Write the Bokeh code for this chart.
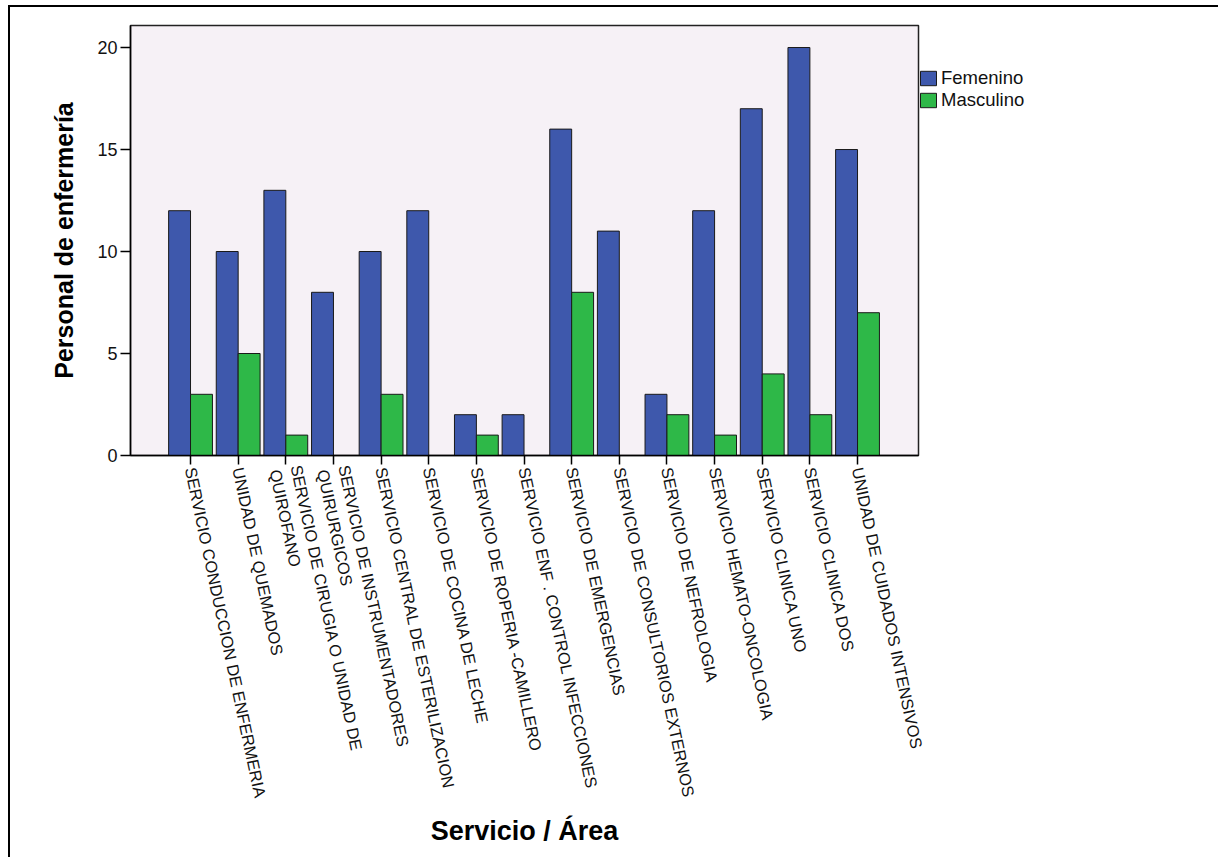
import math
from bokeh.plotting import figure
from bokeh.models import Legend, LegendItem, FixedTicker, Range1d, ColumnDataSource
from bokeh.transform import dodge
from bokeh.embed import file_html
from bokeh.resources import INLINE

categories = [
    "SERVICIO CONDUCCION DE ENFERMERIA",
    "UNIDAD DE QUEMADOS",
    "SERVICIO DE CIRUGIA O UNIDAD DE\nQUIROFANO",
    "SERVICIO DE INSTRUMENTADORES\nQUIRURGICOS",
    "SERVICIO CENTRAL DE ESTERILIZACION",
    "SERVICIO DE COCINA DE LECHE",
    "SERVICIO DE ROPERIA -CAMILLERO",
    "SERVICIO ENF . CONTROL INFECCIONES",
    "SERVICIO DE  EMERGENCIAS",
    "SERVICIO DE CONSULTORIOS EXTERNOS",
    "SERVICIO DE NEFROLOGIA",
    "SERVICIO HEMATO-ONCOLOGIA",
    "SERVICIO CLINICA UNO",
    "SERVICIO CLINICA DOS",
    "UNIDAD DE CUIDADOS INTENSIVOS",
]
femenino = [12, 10, 13, 8, 10, 12, 2, 2, 16, 11, 3, 12, 17, 20, 15]
masculino = [3, 5, 1, 0, 3, 0, 1, 0, 8, 0, 2, 1, 4, 2, 7]
y_ticks = [0, 5, 10, 15, 20]
series_names = ["Femenino", "Masculino"]

FONT = "Liberation Sans"
BLUE = "#3E58AC"
GREEN = "#2EB848"

idx = list(range(len(categories)))
src = ColumnDataSource(dict(x=idx, fem=femenino, mas=masculino))

p = figure(frame_width=788, frame_height=430, output_backend="svg", toolbar_location=None,
           x_range=Range1d(-1.26, 15.28), y_range=Range1d(0, 21.08),
           min_border_left=120, min_border_right=10,
           min_border_top=18, min_border_bottom=402)
p.styles = {"border-left": "2px solid black", "border-top": "2px solid black",
            "margin-left": "8px", "margin-top": "5px"}

p.background_fill_color = "#F6F1F6"
p.border_fill_color = "white"
p.outline_line_color = "#222222"
p.outline_line_width = 1.5
p.xgrid.visible = False
p.ygrid.visible = False

r_f = p.vbar(x=dodge("x", -0.23, range=p.x_range), top="fem", width=0.46, source=src,
             fill_color=BLUE, line_color="#1a1a1a", line_width=1)
r_m = p.vbar(x=dodge("x", 0.23, range=p.x_range), top="mas", width=0.46, source=src,
             fill_color=GREEN, line_color="#1a1a1a", line_width=1)

# y axis
ya = p.yaxis[0]
ya.ticker = FixedTicker(ticks=y_ticks)
ya.minor_tick_line_color = None
ya.major_tick_out = 10
ya.major_tick_in = 0
ya.axis_line_width = 1.5
ya.major_tick_line_width = 1.5
ya.major_label_text_font = FONT
ya.major_label_text_font_size = "18px"
ya.major_label_text_color = "#111111"
ya.major_label_standoff = 3
ya.axis_label = "Personal de enfermería"
ya.axis_label_text_font = FONT
ya.axis_label_text_font_style = "bold"
ya.axis_label_text_font_size = "25px"
ya.axis_label_text_color = "black"
ya.axis_label_standoff = 16

# x axis
xa = p.xaxis[0]
xa.ticker = FixedTicker(ticks=idx)
xa.major_label_overrides = {i: c for i, c in zip(idx, categories)}
xa.minor_tick_line_color = None
xa.major_tick_out = 9
xa.major_tick_in = 0
xa.axis_line_width = 1.5
xa.major_tick_line_width = 1.5
xa.major_label_orientation = -math.radians(78)
xa.major_label_text_font = FONT
xa.major_label_text_font_size = "16.5px"
xa.major_label_text_color = "#111111"
xa.major_label_standoff = 3
xa.axis_label = "Servicio / Área"
xa.axis_label_text_font = FONT
xa.axis_label_text_font_style = "bold"
xa.axis_label_text_font_size = "27px"
xa.axis_label_text_color = "black"
xa.axis_label_standoff = 12

legend = Legend(items=[LegendItem(label=series_names[0], renderers=[r_f]),
                       LegendItem(label=series_names[1], renderers=[r_m])],
                location=(0, 344))
legend.margin = 0
legend.padding = 0
legend.spacing = 0
legend.border_line_color = None
legend.background_fill_alpha = 0
legend.glyph_width = 20
legend.glyph_height = 18
legend.label_height = 18
legend.label_standoff = 3
legend.label_text_font = FONT
legend.label_text_font_size = "18.5px"
legend.label_text_color = "#111111"
p.add_layout(legend, "right")

open("out.html", "w").write(file_html(p, INLINE))
